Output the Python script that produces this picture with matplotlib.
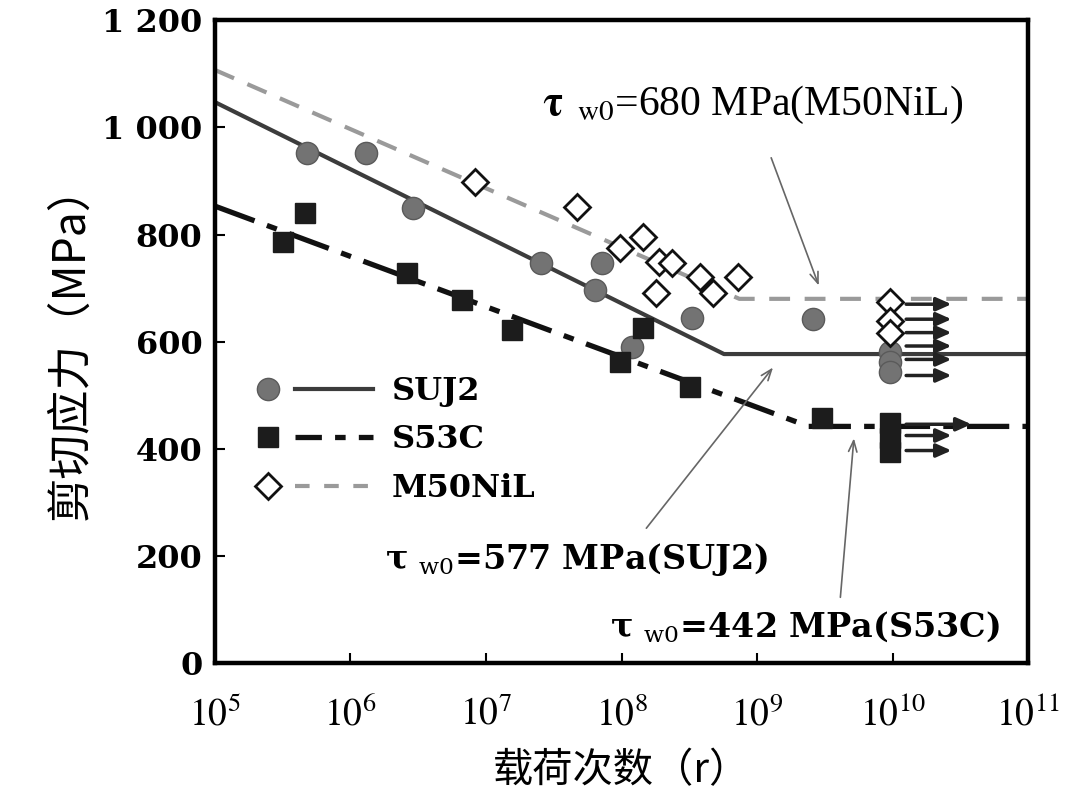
import matplotlib
matplotlib.use("Agg")
import matplotlib.pyplot as plt
from matplotlib.lines import Line2D
from matplotlib.legend_handler import HandlerBase
from matplotlib.ticker import FixedLocator, NullLocator

# fitted S-N lines (knee points)
suj2_fit_x = [1e5, 5.7e8, 1e11]
suj2_fit_y = [1047, 577, 577]
s53c_fit_x = [1e5, 2.4e9, 1e11]
s53c_fit_y = [853, 442, 442]
m50_fit_x = [1e5, 7.4e8, 1e11]
m50_fit_y = [1107, 680, 680]

# test points
suj2_x = [4.8e5, 1.3e6, 2.9e6, 2.55e7, 7.2e7, 6.4e7, 1.2e8, 3.3e8, 2.6e9, 9.5e9, 9.5e9, 9.5e9]
suj2_y = [952, 952, 849, 747, 747, 696, 590, 644, 642, 580, 562, 543]
s53c_x = [3.2e5, 4.6e5, 2.6e6, 6.7e6, 1.55e7, 9.8e7, 1.45e8, 3.2e8, 3.0e9, 9.5e9, 9.5e9, 9.5e9]
s53c_y = [786, 840, 728, 677, 621, 562, 625, 515, 457, 449, 421, 395]
m50_x = [8.3e6, 4.7e7, 9.8e7, 1.44e8, 1.9e8, 2.36e8, 1.8e8, 3.8e8, 4.7e8, 7.2e8, 9.5e9, 9.5e9, 9.5e9]
m50_y = [898, 851, 775, 795, 748, 747, 691, 720, 691, 720, 674, 638, 617]

# run-out arrows (no failure)
runout_y = [670, 642, 617, 592, 567, 537]
s53c_runout_y = [446, 425, 397]

xticks = [1e5, 1e6, 1e7, 1e8, 1e9, 1e10, 1e11]
xtick_labels = ["$10^{5}$", "$10^{6}$", "$10^{7}$", "$10^{8}$", "$10^{9}$", "$10^{10}$", "$10^{11}$"]
yticks = [0, 200, 400, 600, 800, 1000, 1200]
ytick_labels = ["0", "200", "400", "600", "800", "1 000", "1 200"]

cjk = ["Noto Sans CJK SC", "DejaVu Sans"]
serif_bold = dict(family="DejaVu Serif", fontweight="bold")


class MarkerThenLine(HandlerBase):
    # marker on the left, line segment to its right
    def create_artists(self, legend, orig_handle, xdescent, ydescent,
                       width, height, fontsize, trans):
        mk, ln = orig_handle
        y = height / 2 - ydescent
        m = Line2D([-xdescent + 0.09 * width], [y])
        m.update_from(mk)
        m.set_transform(trans)
        seg = Line2D([-xdescent + 0.32 * width, -xdescent + width], [y, y])
        seg.update_from(ln)
        seg.set_transform(trans)
        return [seg, m]


fig = plt.figure(figsize=(10.8, 8.05), dpi=100)
ax = fig.add_axes([0.199, 0.176, 0.753, 0.799])

ax.plot(m50_fit_x, m50_fit_y, color="#9a9a9a", lw=3, linestyle=(0, (5, 3.5)))
ax.plot(suj2_fit_x, suj2_fit_y, color="#3c3c3c", lw=3)
ax.plot(s53c_fit_x, s53c_fit_y, color="#111111", lw=3.8, linestyle=(0, (8, 2.5, 2, 2.5)))

# run-out arrows
for y in runout_y:
    ax.annotate("", xy=(2.85e10, y), xytext=(1.2e10, y),
                arrowprops=dict(arrowstyle="-|>,head_length=0.9,head_width=0.4", color="#222222", lw=2.5))
for i, y in enumerate(s53c_runout_y):
    x_end = 4.0e10 if i == 0 else 2.85e10
    ax.annotate("", xy=(x_end, y), xytext=(1.2e10, y),
                arrowprops=dict(arrowstyle="-|>,head_length=0.9,head_width=0.4", color="#222222", lw=2.5))

ax.plot(suj2_x, suj2_y, "o", ms=16, mfc="#737373", mec="#5a5a5a", mew=1, ls="none")
ax.plot(s53c_x, s53c_y, "s", ms=15, mfc="#1c1c1c", mec="#1c1c1c", ls="none")
ax.plot(m50_x, m50_y, "D", ms=13, mfc="white", mec="#111111", mew=2, ls="none")

ax.set_xscale("log")
ax.set_xlim(1e5, 1e11)
ax.set_ylim(0, 1200)
ax.xaxis.set_major_locator(FixedLocator(xticks))
ax.xaxis.set_minor_locator(NullLocator())
ax.set_xticks(xticks)
ax.set_xticklabels(xtick_labels, fontsize=27, math_fontfamily="stix")
ax.set_yticks(yticks)
ax.set_yticklabels(ytick_labels, fontsize=23, **serif_bold)
ax.tick_params(axis="both", direction="in", length=7, width=1.5)
ax.tick_params(axis="x", pad=24)
ax.tick_params(axis="y", pad=9)
for sp in ax.spines.values():
    sp.set_linewidth(3.2)

ax.set_ylabel("剪切应力（MPa）", family=cjk, fontsize=32, labelpad=6)
ax.set_xlabel("载荷次数（r）", family=cjk, fontsize=29, labelpad=12)

# legend: marker followed by line
h_suj2 = (Line2D([], [], marker="o", ms=16, mfc="#737373", mec="#5a5a5a", ls="none"),
          Line2D([], [], color="#3c3c3c", lw=3))
h_s53c = (Line2D([], [], marker="s", ms=15, mfc="#1c1c1c", mec="#1c1c1c", ls="none"),
          Line2D([], [], color="#111111", lw=3.8, linestyle=(0, (5, 2.5, 2, 2.5))))
h_m50 = (Line2D([], [], marker="D", ms=13, mfc="white", mec="#111111", mew=2, ls="none"),
         Line2D([], [], color="#9a9a9a", lw=3, linestyle=(0, (3.5, 3.5))))
ax.legend([h_suj2, h_s53c, h_m50], ["SUJ2", "S53C", "M50NiL"],
          handler_map={tuple: MarkerThenLine()},
          loc="upper left", bbox_to_anchor=(0.037, 0.467), borderaxespad=0, frameon=False,
          handlelength=3.6, labelspacing=0.55, handletextpad=0.6,
          prop=dict(family="DejaVu Serif", weight="bold", size=23))

# annotations
arrow_kw = dict(arrowstyle="->,head_length=0.8,head_width=0.3", color="#666666", lw=1.2)
ax.annotate("", xy=(2.9e9, 700), xytext=(1.25e9, 948), arrowprops=arrow_kw)
ax.annotate("", xy=(1.35e9, 556), xytext=(1.48e8, 248), arrowprops=arrow_kw)
ax.annotate("", xy=(5.2e9, 425), xytext=(4.1e9, 118), arrowprops=arrow_kw)

ax.text(2.6e7, 1042, r"$\mathbf{\tau}_{\ \ \mathrm{w0}}$=680 MPa(M50NiL)", fontsize=30,
        family="Liberation Serif", math_fontfamily="stix", va="center", ha="left")
ax.text(1.8e6, 193, r"$\mathbf{\tau}_{\ \,\mathrm{w0}}$=577 MPa(SUJ2)", fontsize=24,
        math_fontfamily="dejavuserif", va="center", ha="left", **serif_bold)
ax.text(8.2e7, 68, r"$\mathbf{\tau}_{\ \,\mathrm{w0}}$=442 MPa(S53C)", fontsize=24,
        math_fontfamily="dejavuserif", va="center", ha="left", **serif_bold)

fig.savefig("out.png", dpi=100)
